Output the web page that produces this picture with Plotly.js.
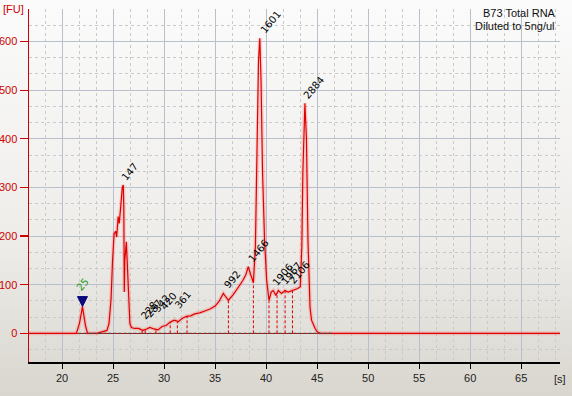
<!DOCTYPE html>
<html>
<head>
<meta charset="utf-8">
<script src="https://cdn.plot.ly/plotly-3.0.1.min.js"></script>
<style>
html,body{margin:0;padding:0;}
body{width:572px;height:396px;background:linear-gradient(#fbfbfb 0%,#eeedea 60%,#d9d6cf 100%);overflow:hidden;}
#chart{width:572px;height:396px;}
</style>
</head>
<body>
<div id="chart"></div>
<script>
// Electropherogram signal (time in s, fluorescence in FU)
const sigTime = [16.76, 21.4, 21.7, 22.0, 22.3, 22.5, 23.4, 24.0, 24.4, 24.6, 24.8, 24.95, 25.1, 25.25, 25.35, 25.5, 25.6, 25.75, 25.9, 26.0, 26.05, 26.1, 26.15, 26.3, 26.45, 26.65, 26.8, 27.1, 27.5, 27.9, 28.2, 28.6, 29.0, 29.4, 29.8, 30.2, 30.6, 31.0, 31.4, 31.8, 32.2, 32.6, 33.0, 33.5, 34.0, 34.5, 35.0, 35.4, 35.8, 36.3, 36.8, 37.3, 37.7, 38.0, 38.25, 38.5, 38.75, 38.95, 39.1, 39.25, 39.38, 39.5, 39.65, 39.85, 40.05, 40.28, 40.5, 40.7, 40.95, 41.2, 41.5, 41.85, 42.15, 42.5, 42.8, 43.1, 43.35, 43.5, 43.6, 43.7, 43.8, 43.95, 44.1, 44.3, 44.45, 44.8, 45.0, 45.3, 68.8];
const sigFU = [0, 0, 20, 55, 15, 0, 0, 4, 6, 20, 70, 150, 205, 210, 198, 240, 226, 260, 300, 305, 260, 85, 150, 188, 120, 20, 12, 10, 10, 6, 8, 12, 9, 7, 14, 16, 23, 27, 24, 31, 35, 36, 40, 42, 46, 50, 56, 66, 82, 68, 80, 95, 108, 120, 137, 120, 104, 180, 350, 560, 607, 520, 330, 190, 110, 68, 85, 88, 78, 88, 82, 88, 85, 88, 90, 92, 96, 180, 330, 440, 473, 400, 192, 54, 27, 10, 3, 0, 0];

// Baseline segment
const baseTime = [21.6, 46.4];
const baseFU = [0, 0];

// Marker (ladder) peak
const markerTime = 22.0;
const markerFU = 55;
const markerLabel = '25';

// Peak labels
const peakLabels = ['147', '228', '287', '342', '420', '361', '992', '1466', '1601', '1906', '1967', '2106', '2884'];
const peakTime   = [25.65, 27.55, 28.0, 28.75, 29.4, 30.85, 35.7, 38.1, 39.2, 40.45, 41.3, 42.1, 43.5];
const peakFU     = [305, 18, 24, 34, 38, 42, 82, 137, 607, 88, 90, 92, 473];

// Peak boundary lines (time in s)
const lineTime = [27.85, 28.15, 29.2, 30.6, 31.3, 32.25, 36.3, 38.75, 40.28, 41.07, 41.86, 42.58];

// Axis ticks
const xTicks = [20, 25, 30, 35, 40, 45, 50, 55, 60, 65];
const yTicks = [0, 100, 200, 300, 400, 500, 600];

function interp(t) {
  for (let i = 0; i < sigTime.length - 1; i++) {
    if (t >= sigTime[i] && t <= sigTime[i + 1]) {
      const f = (t - sigTime[i]) / (sigTime[i + 1] - sigTime[i]);
      return sigFU[i] + f * (sigFU[i + 1] - sigFU[i]);
    }
  }
  return 0;
}

const traces = [];
// glow
traces.push({x: sigTime, y: sigFU, mode: 'lines', line: {color: 'rgba(255,90,90,0.25)', width: 4}, hoverinfo: 'skip', showlegend: false});
// boundary lines
lineTime.forEach(t => {
  traces.push({x: [t, t], y: [0, interp(t)], mode: 'lines', line: {color: '#dd0000', width: 1, dash: '3px,2px'}, hoverinfo: 'skip', showlegend: false});
});
// main signal
traces.push({x: sigTime, y: sigFU, mode: 'lines', line: {color: '#e00000', width: 1.2}, showlegend: false});
// baseline
traces.push({x: baseTime, y: baseFU, mode: 'lines', line: {color: '#4a4a4a', width: 1.2, dash: '3px,2px'}, showlegend: false});

const font = 'Liberation Sans, Arial, sans-serif';
const annotations = [];
peakLabels.forEach((lab, i) => {
  annotations.push({x: peakTime[i], y: peakFU[i], xref: 'x', yref: 'y', text: lab, showarrow: false,
    xanchor: 'left', yanchor: 'bottom', textangle: -50, xshift: -3, yshift: 0,
    font: {family: 'DejaVu Sans', size: 10, color: '#000'}});
});
annotations.push({x: markerTime, y: markerFU, xref: 'x', yref: 'y', text: markerLabel, showarrow: false,
  xanchor: 'center', yanchor: 'bottom', textangle: -50, yshift: 11,
  font: {family: 'DejaVu Sans', size: 10, color: '#1a9a1a'}});
annotations.push({x: 0, y: 1, xref: 'paper', yref: 'paper', text: '[FU]', showarrow: false,
  xanchor: 'left', yanchor: 'middle', xshift: -28, yshift: 0, font: {family: font, size: 11, color: '#cc0000'}});
annotations.push({x: 1, y: 0, xref: 'paper', yref: 'paper', text: '[s]', showarrow: false,
  xanchor: 'center', yanchor: 'middle', yshift: -17, font: {family: font, size: 11, color: '#222'}});
annotations.push({x: 1, y: 1, xref: 'paper', yref: 'paper', text: 'B73 Total RNA', showarrow: false,
  xanchor: 'right', yanchor: 'middle', xshift: -2, yshift: -4, font: {family: font, size: 11, color: '#111'}});
annotations.push({x: 1, y: 1, xref: 'paper', yref: 'paper', text: 'Diluted to 5ng/ul', showarrow: false,
  xanchor: 'right', yanchor: 'middle', xshift: -3, yshift: -17, font: {family: font, size: 11, color: '#111'}});

const shapes = [{
  type: 'path', xref: 'x', yref: 'y', xsizemode: 'pixel', ysizemode: 'pixel',
  xanchor: markerTime, yanchor: markerFU,
  path: 'M-5,10 L5,10 L0,0 Z', fillcolor: '#0a0a7a', line: {color: '#0a0a7a', width: 1}
}];

const layout = {
  width: 572, height: 396,
  margin: {l: 29, r: 12, t: 9, b: 34, pad: 0},
  paper_bgcolor: 'rgba(0,0,0,0)', plot_bgcolor: 'rgba(0,0,0,0)',
  showlegend: false,
  xaxis: {
    range: [16.76, 68.8], tickvals: xTicks, ticktext: xTicks.map(String),
    showgrid: true, gridcolor: '#b9c0cb', gridwidth: 1,
    minor: {dtick: 5 / 3, tick0: 20, showgrid: true, gridcolor: '#cacaca', griddash: '3px,3px', ticklen: 0},
    showline: true, linecolor: '#000', linewidth: 1.5,
    ticks: 'outside', ticklen: 5, tickcolor: '#000', tickwidth: 1,
    zeroline: false, tickfont: {family: font, size: 11, color: '#222'}
  },
  yaxis: {
    range: [-59, 667], tickvals: yTicks, ticktext: yTicks.map(String),
    showgrid: true, gridcolor: '#b9c0cb', gridwidth: 1,
    minor: {dtick: 100 / 3, tick0: 0, showgrid: true, gridcolor: '#cacaca', griddash: '3px,3px', ticklen: 0},
    showline: true, linecolor: '#cc0000', linewidth: 1.5,
    ticks: 'outside', ticklen: 8, tickcolor: '#cc0000', tickwidth: 1.2,
    zeroline: true, zerolinecolor: '#dd0000', zerolinewidth: 1.2,
    tickfont: {family: font, size: 11, color: '#cc0000'}
  },
  annotations: annotations,
  shapes: shapes
};

Plotly.newPlot('chart', traces, layout, {staticPlot: true, displayModeBar: false});
</script>
</body>
</html>
